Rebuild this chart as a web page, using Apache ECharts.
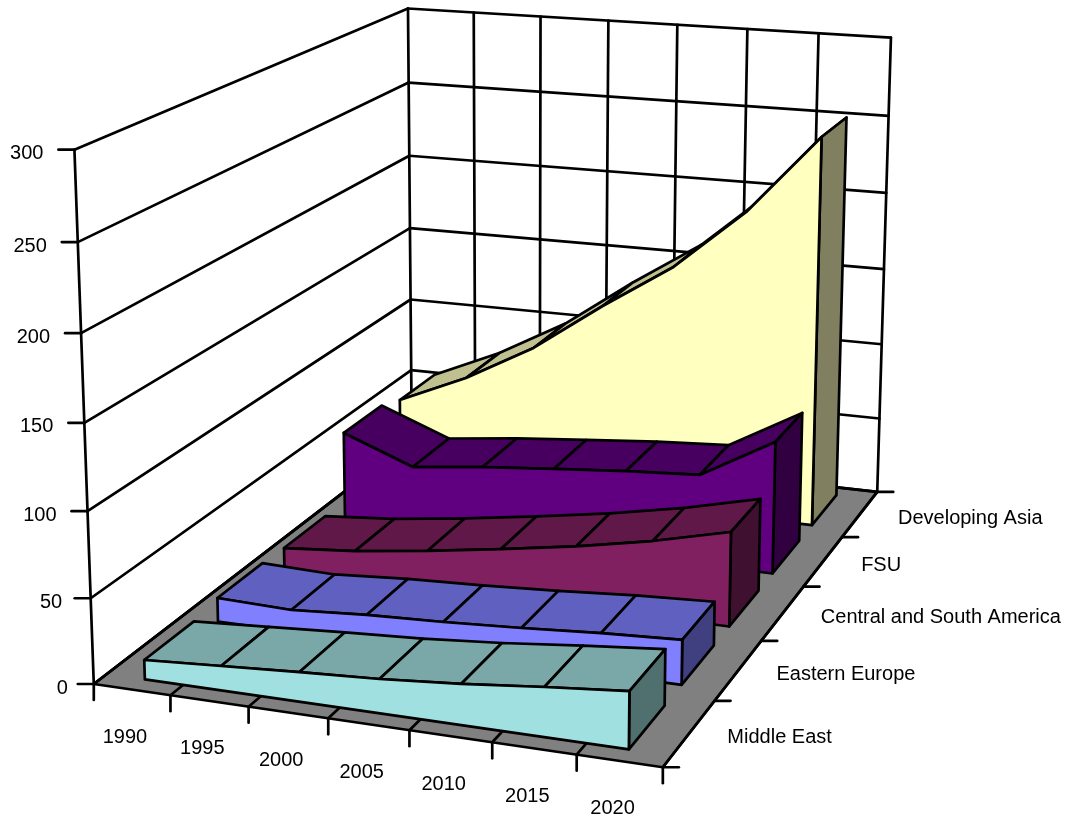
<!DOCTYPE html>
<html>
<head>
<meta charset="utf-8">
<style>html,body{margin:0;padding:0;background:#fff}#c{width:1068px;height:819px}</style>
<script src="https://cdn.jsdelivr.net/npm/echarts@6/dist/echarts.min.js"></script>
</head>
<body>
<div id="c"></div>
<script>
// ---- data ----
const years = ['1990','1995','2000','2005','2010','2015','2020'];
const valueTicks = [0,50,100,150,200,250,300];
const seriesNames = ['Middle East','Eastern Europe','Central and South America','FSU','Developing Asia'];
const middleEast = [11.4,14.3,17.2,19.7,23.4,28.2,32.5];
const easternEurope = [14.5,13.2,16.3,18.2,20.8,24,26.2];
const centralSouthAmerica = [13.5,17.3,23.1,30,37.3,46.3,57.4];
const fsu = [58.6,41.3,46.5,50.5,54.4,57.2,83.1];
const developingAsia = [53.4,73.2,98.1,130.4,160.1,199.4,250.3];
const valueMax = 300;

// ---- palette: [front, top, side] ----
const palettes = [
  ['#A0E0E0','#7AA8A8','#507070'],
  ['#8080FF','#6060C0','#404080'],
  ['#802060','#601848','#401030'],
  ['#600080','#480060','#300040'],
  ['#FFFFC0','#BFBF90','#808060']
];

// ---- view calibration: cube corner (t,z,h) -> page position ----
const viewAnchors = [
  [0,0,0, 95,683],[1,0,0, 663,768],[0,1,0, 410,441],[1,1,0, 878,491],
  [0,0,1, 73,150],[0,1,1, 410,8],[1,1,1, 890,38]
];
function solveView(anchors){
  const N=11, A=[], b=[];
  anchors.forEach(([X,Y,Z,u0,v0])=>{
    const u=u0/1000, v=v0/1000;
    A.push([X,Y,Z,1,0,0,0,0,-u*X,-u*Y,-u*Z]); b.push(u);
    A.push([0,0,0,0,X,Y,Z,1,-v*X,-v*Y,-v*Z]); b.push(v);
  });
  const M=[];
  for(let i=0;i<N;i++){
    const row=new Array(N+1).fill(0);
    for(let j=0;j<N;j++) for(let r=0;r<A.length;r++) row[j]+=A[r][i]*A[r][j];
    for(let r=0;r<A.length;r++) row[N]+=A[r][i]*b[r];
    M.push(row);
  }
  for(let i=0;i<N;i++){
    let p=i; for(let r=i+1;r<N;r++) if(Math.abs(M[r][i])>Math.abs(M[p][i])) p=r;
    [M[i],M[p]]=[M[p],M[i]];
    for(let r=0;r<N;r++){ if(r===i) continue;
      const f=M[r][i]/M[i][i];
      for(let c=i;c<=N;c++) M[r][c]-=f*M[i][c];
    }
  }
  return M.map((row,i)=>row[N]/row[i]);
}
const P=solveView(viewAnchors);
function project(t,z,h){
  const w=P[8]*t+P[9]*z+P[10]*h+1;
  return [1000*(P[0]*t+P[1]*z+P[2]*h+P[3])/w, 1000*(P[4]*t+P[5]*z+P[6]*h+P[7])/w];
}
const catT=i=>(i+0.5)/years.length;
const bandCount=seriesNames.length;
const frontFrac=1/6, backFrac=5/6;

const BLACK='#000';
const LW=2.7;
const FONT='20px "Liberation Sans", Arial, sans-serif';
function line(a,b){return {type:'line',shape:{x1:a[0],y1:a[1],x2:b[0],y2:b[1]},style:{stroke:BLACK,lineWidth:LW,lineCap:'round'},silent:true};}
function poly(pts,fill){return {type:'polygon',shape:{points:pts},style:{fill:fill,stroke:BLACK,lineWidth:LW,lineJoin:'round'},silent:true};}
function label(txt,x,y,align){return {type:'text',style:{text:txt,x:x,y:y,font:FONT,fill:'#000',align:align,verticalAlign:'middle'},silent:true};}

// ---- walls, floor, ticks, labels ----
function renderFrame(){
  const c=[];
  c.push(poly([project(0,0,0),project(1,0,0),project(1,1,0),project(0,1,0)],'#808080'));
  for(let k=0;k<=years.length;k++){
    const t=k/years.length;
    c.push(line(project(t,1,0),project(t,1,1)));
    c.push(line(project(t,0,0),project(t,1,0)));
    const f=project(t,0,0);
    c.push(line(f,[f[0],f[1]+16]));
  }
  valueTicks.forEach(v=>{
    const h=v/valueMax;
    const a=project(0,0,h), b=project(0,1,h), d=project(1,1,h);
    c.push(line(a,b)); c.push(line(b,d));
    c.push(line([a[0]-16,a[1]],a));
    c.push(label(String(v),a[0]-26-Math.min(v,100)*0.05,a[1]+4,'right'));
  });
  c.push(line(project(0,0,0),project(0,0,1)));
  for(let k=0;k<=bandCount;k++){
    const a=project(1,k/bandCount,0);
    c.push(line(a,[a[0]+16,a[1]]));
  }
  years.forEach((y,i)=>{
    const a=project(catT(i),0,0);
    c.push(label(y,a[0]-7,a[1]+48,'center'));
  });
  seriesNames.forEach((n,k)=>{
    const a=project(1,(k+0.5)/bandCount,0);
    c.push(label(n,a[0]+38,a[1]+4,'left'));
  });
  return {type:'group',children:c};
}

function bandSeries(name,values,k){
  const pal=palettes[k];
  const zf=(k+frontFrac)/bandCount, zb=(k+backFrac)/bandCount;
  const n=values.length;
  return {
    name:name,type:'custom',coordinateSystem:'none',z:10+(bandCount-k),
    data:values.map((v,i)=>[i,v]),
    renderItem:function(params,api){
      const i=api.value(0), h=api.value(1)/valueMax, c=[];
      if(i<n-1){
        const t0=catT(i), t1=catT(i+1), h1=values[i+1]/valueMax;
        c.push(poly([project(t0,zf,h),project(t1,zf,h1),project(t1,zb,h1),project(t0,zb,h)],pal[1]));
      } else {
        const t=catT(i);
        c.push(poly([project(t,zf,0),project(t,zb,0),project(t,zb,h),project(t,zf,h)],pal[2]));
        const pts=values.map((v,j)=>project(catT(j),zf,v/valueMax));
        pts.push(project(t,zf,0)); pts.push(project(catT(0),zf,0));
        c.push(poly(pts,pal[0]));
      }
      return {type:'group',children:c};
    }
  };
}

const chart=echarts.init(document.getElementById('c'),null,{renderer:'canvas'});
chart.setOption({
  animation:false,
  backgroundColor:'#fff',
  series:[
    {type:'custom',name:'frame',coordinateSystem:'none',z:1,data:[[0]],renderItem:renderFrame},
    bandSeries(seriesNames[4],developingAsia,4),
    bandSeries(seriesNames[3],fsu,3),
    bandSeries(seriesNames[2],centralSouthAmerica,2),
    bandSeries(seriesNames[1],easternEurope,1),
    bandSeries(seriesNames[0],middleEast,0)
  ]
});
</script>
</body>
</html>
